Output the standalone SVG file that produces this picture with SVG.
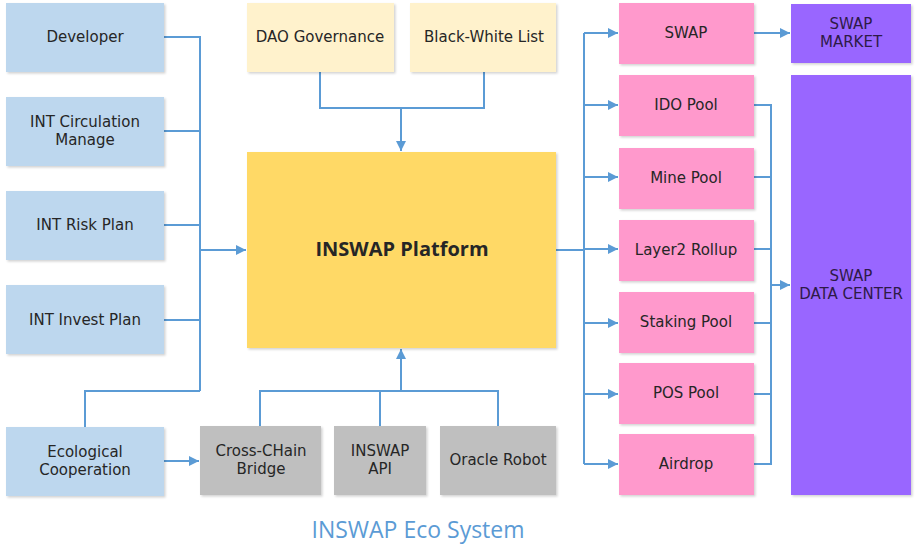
<svg xmlns="http://www.w3.org/2000/svg" width="918" height="557" viewBox="0 0 918 557">
<style>
.box{stroke:none;filter:url(#sh)}
.blue{fill:#BDD7EE}
.cream{fill:#FFF2CC}
.main{fill:#FFD966}
.gray{fill:#BFBFBF}
.pink{fill:#FF99CC}
.purple{fill:#9966FF}
text{font-family:"DejaVu Sans","Noto Sans",sans-serif;font-size:15px;fill:#262626;text-anchor:middle}
.dark{fill:#2E1A47}
.title{font-family:"Open Sans","Noto Sans",sans-serif;font-size:23px;fill:#5B9BD5}
.big{font-family:"Open Sans","Noto Sans",sans-serif;font-size:20px;font-weight:bold}
.ln{fill:none;stroke:#5B9BD5;stroke-width:2}
</style>
<defs>
<filter id="sh" x="-5%" y="-5%" width="115%" height="115%">
<feDropShadow dx="1.5" dy="1.5" stdDeviation="1" flood-color="#000" flood-opacity="0.18"/>
</filter>
<marker id="ar" viewBox="0 0 10 10" refX="10" refY="5" markerWidth="5" markerHeight="5" orient="auto" markerUnits="strokeWidth">
<path d="M0,0 L10,5 L0,10 z" fill="#5B9BD5"/>
</marker>
</defs>

<g id="connectors">
<path class="ln" d="M164,37 H200 V391"/>
<path class="ln" d="M164,131 H200"/>
<path class="ln" d="M164,225 H200"/>
<path class="ln" d="M164,320 H200"/>
<path class="ln" d="M85,427 V391 H200"/>
<path class="ln" d="M200,250 H246" marker-end="url(#ar)"/>
<path class="ln" d="M164,461 H199" marker-end="url(#ar)"/>
<path class="ln" d="M320,72 V108 H484 V72"/>
<path class="ln" d="M401,108 V151" marker-end="url(#ar)"/>
<path class="ln" d="M260,426 V391 H498 V426"/>
<path class="ln" d="M380,426 V391"/>
<path class="ln" d="M401,391 V349" marker-end="url(#ar)"/>
<path class="ln" d="M556,250 H584"/>
<path class="ln" d="M584,33 V464"/>
<path class="ln" d="M584,33 H618" marker-end="url(#ar)"/>
<path class="ln" d="M584,105 H618" marker-end="url(#ar)"/>
<path class="ln" d="M584,177 H618" marker-end="url(#ar)"/>
<path class="ln" d="M584,249 H618" marker-end="url(#ar)"/>
<path class="ln" d="M584,323 H618" marker-end="url(#ar)"/>
<path class="ln" d="M584,394 H618" marker-end="url(#ar)"/>
<path class="ln" d="M584,464 H618" marker-end="url(#ar)"/>
<path class="ln" d="M754,33 H790" marker-end="url(#ar)"/>
<path class="ln" d="M754,105 H771 V464 H754"/>
<path class="ln" d="M754,177 H771"/>
<path class="ln" d="M754,249 H771"/>
<path class="ln" d="M754,323 H771"/>
<path class="ln" d="M754,394 H771"/>
<path class="ln" d="M771,285 H790" marker-end="url(#ar)"/>
</g>

<g id="developer"><rect class="box blue" x="6" y="3" width="158" height="69"/><text x="85" y="42">Developer</text></g>
<g id="int-circulation"><rect class="box blue" x="6" y="97" width="158" height="69"/><text x="85" y="127">INT Circulation</text><text x="85" y="145">Manage</text></g>
<g id="int-risk"><rect class="box blue" x="6" y="191" width="158" height="69"/><text x="85" y="230">INT Risk Plan</text></g>
<g id="int-invest"><rect class="box blue" x="6" y="285" width="158" height="69"/><text x="85" y="325">INT Invest Plan</text></g>
<g id="ecological"><rect class="box blue" x="6" y="427" width="158" height="69"/><text x="85" y="457">Ecological</text><text x="85" y="475">Cooperation</text></g>

<g id="dao"><rect class="box cream" x="247" y="3" width="147" height="69"/><text x="320" y="42">DAO Governance</text></g>
<g id="bwlist"><rect class="box cream" x="410" y="3" width="146" height="69"/><text x="484" y="42">Black-White List</text></g>

<g id="platform"><rect class="box main" x="247" y="152" width="309" height="196"/><text class="big" x="402" y="256">INSWAP Platform</text></g>

<g id="crosschain"><rect class="box gray" x="200" y="426" width="121" height="69"/><text x="261" y="456">Cross-CHain</text><text x="261" y="474">Bridge</text></g>
<g id="api"><rect class="box gray" x="334" y="426" width="92" height="69"/><text x="380" y="456">INSWAP</text><text x="380" y="474">API</text></g>
<g id="oracle"><rect class="box gray" x="440" y="426" width="116" height="69"/><text x="498" y="465">Oracle Robot</text></g>

<g id="swap"><rect class="box pink" x="619" y="3" width="135" height="61"/><text x="686" y="38">SWAP</text></g>
<g id="ido"><rect class="box pink" x="619" y="75" width="135" height="61"/><text x="686" y="110">IDO Pool</text></g>
<g id="mine"><rect class="box pink" x="619" y="148" width="135" height="61"/><text x="686" y="183">Mine Pool</text></g>
<g id="layer2"><rect class="box pink" x="619" y="220" width="135" height="61"/><text x="686" y="255">Layer2 Rollup</text></g>
<g id="staking"><rect class="box pink" x="619" y="292" width="135" height="61"/><text x="686" y="327">Staking Pool</text></g>
<g id="pos"><rect class="box pink" x="619" y="363" width="135" height="61"/><text x="686" y="398">POS Pool</text></g>
<g id="airdrop"><rect class="box pink" x="619" y="434" width="135" height="61"/><text x="686" y="469">Airdrop</text></g>

<g id="swap-market"><rect class="box purple" x="791" y="4" width="120" height="59"/><text class="dark" x="851" y="29">SWAP</text><text class="dark" x="851" y="47">MARKET</text></g>
<g id="data-center"><rect class="box purple" x="791" y="75" width="120" height="420"/><text class="dark" x="851" y="281">SWAP</text><text class="dark" x="851" y="299">DATA CENTER</text></g>

<text class="title" x="418" y="538">INSWAP Eco System</text>
</svg>
